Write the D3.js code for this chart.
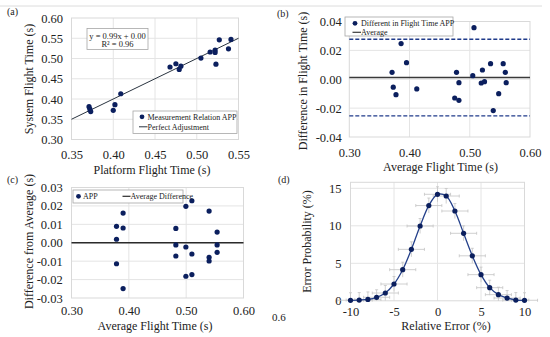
<!DOCTYPE html>
<html>
<head>
<meta charset="utf-8">
<script src="https://cdn.jsdelivr.net/npm/d3@7"></script>
<style>
body{margin:0;background:#fff;}
svg text{font-family:'Liberation Serif',serif;}
.grid{stroke:#e4e4e4;stroke-width:1;}
.frame{fill:none;stroke:#d9d9d9;stroke-width:1;}
.axis text{font-size:12.5px;fill:#222;}
.axisTitle{font-size:12px;fill:#222;}
.panelLabel{font-size:10px;fill:#222;}
.legendBox{fill:#fff;stroke:#a6a6a6;stroke-width:0.8;}
.legendText{font-size:8px;fill:#222;}
.dot{fill:#0b1f5e;}
</style>
</head>
<body>
<script>
//panel (a): platform vs system flight time
var platformTime=[0.371,0.372,0.373,0.400,0.402,0.409,0.468,0.475,0.479,0.481,0.505,0.516,0.522,0.522,0.523,0.527,0.538,0.541];
var systemTime=[0.381,0.375,0.369,0.372,0.386,0.413,0.479,0.487,0.473,0.481,0.501,0.516,0.521,0.515,0.486,0.546,0.524,0.547];
var fitLine=[0.35,0.55]; //perfect adjustment y = x
var ticksAx=[0.35,0.40,0.45,0.50,0.55],
	ticksAy=[0.30,0.35,0.40,0.45,0.50,0.55,0.60];

//panel (b): difference in flight time
var avgTimeB=[0.371,0.373,0.3775,0.386,0.395,0.412,0.475,0.478,0.482,0.482,0.505,0.507,0.519,0.521,0.5245,0.5345,0.539,0.548,0.5555,0.559,0.5605];
var diffB=[0.0048,-0.0055,-0.0107,0.0247,0.0115,-0.0067,-0.0130,0.0048,-0.0024,-0.0146,0.0025,0.0357,-0.0026,0.0064,-0.0017,0.0108,-0.0217,-0.0100,0.0108,0.0048,-0.0024];
var limitsB=[0.0012,0.0277,-0.0254]; //average, upper, lower
var ticksBx=[0.30,0.40,0.50,0.60],
	ticksBy=[-0.04,-0.02,0.00,0.02,0.04];

//panel (c): difference from average
var avgTimeC=[0.3785,0.3785,0.3785,0.390,0.390,0.390,0.482,0.482,0.482,0.4995,0.4995,0.4995,0.510,0.510,0.510,0.540,0.540,0.540,0.554,0.554,0.554];
var diffC=[0.0089,0.0019,-0.0114,0.0161,0.0080,-0.0249,0.0078,-0.0012,-0.0072,0.0198,-0.0023,-0.0182,0.0228,-0.0061,-0.0173,0.0172,-0.0079,-0.0099,0.0058,-0.0012,-0.0052];
var avgDiffC=[0.0];
var ticksCx=[0.30,0.40,0.50,0.60],
	ticksCy=[-0.03,-0.02,-0.01,0.00,0.01,0.02,0.03];

//panel (d): error distribution
var relError=[-10,-9,-8,-7,-6,-5,-4,-3,-2,-1,0,1,2,3,4,5,6,7,8,9,10];
var errProb=[0.07,0.1,0.18,0.47,1.04,2.24,4.15,6.86,9.97,12.7,14.2,13.97,11.97,9.0,6.0,3.49,1.75,0.82,0.37,0.1,0.07];
var errBarX=[1.5,1.5,1.5,1.5,1.5,1.5,1.5,1.5,1.5,1.5,1.5,1.5,1.5,1.5,1.5,1.5,1.5,1.5,1.5,1.5,1.5];
var errBarY=[1.0,1.0,1.0,1.0,1.0,1.0,1.0,1.0,1.0,1.0,1.0,1.0,1.0,1.0,1.0,1.0,1.0,1.0,1.0,1.0,1.0];
var ticksDx=[-10,-5,0,5,10],
	ticksDy=[0,5,10,15];

var fmt2=function(d){return d.toFixed(2);};

var svg=d3.select("body")
	.append("svg")
	.attr("width",550)
	.attr("height",337)
	.attr("font-family","Liberation Serif");

//thin separator line at the top
svg.append("line")
	.attr("x1",0).attr("x2",542)
	.attr("y1",6).attr("y2",6)
	.attr("stroke","#dcdcdc")
	.attr("stroke-width",1);

//build a panel frame with gridlines, border and tick labels
function setPanel(f){
	var x=d3.scaleLinear().domain(f.xDom).range([f.left,f.right]);
	var y=d3.scaleLinear().domain(f.yDom).range([f.bottom,f.top]);
	var g=svg.append("g");

	g.selectAll(".gx")
		.data(f.xTicks.slice(1,-1))
		.enter()
		.append("line")
		.attr("class","grid")
		.attr("x1",function(d){return x(d);})
		.attr("x2",function(d){return x(d);})
		.attr("y1",f.top)
		.attr("y2",f.bottom);
	g.selectAll(".gy")
		.data(f.yTicks.filter(function(d){return y(d)>f.top+1 && y(d)<f.bottom-1;}))
		.enter()
		.append("line")
		.attr("class","grid")
		.attr("x1",f.left)
		.attr("x2",f.right)
		.attr("y1",function(d){return y(d);})
		.attr("y2",function(d){return y(d);});

	g.append("rect")
		.attr("class","frame")
		.attr("x",f.left)
		.attr("y",f.top)
		.attr("width",f.right-f.left)
		.attr("height",f.bottom-f.top);

	var xAxis=g.append("g")
		.attr("class","axis")
		.attr("transform","translate(0,"+f.bottom+")")
		.call(d3.axisBottom(x).tickValues(f.xTicks).tickFormat(f.xFmt).tickSize(0).tickPadding(f.padX));
	xAxis.select(".domain").remove();
	xAxis.attr("font-family",null).attr("font-size",null);

	var yAxis=g.append("g")
		.attr("class","axis")
		.attr("transform","translate("+f.left+",0)")
		.call(d3.axisLeft(y).tickValues(f.yTicks).tickFormat(f.yFmt).tickSize(0).tickPadding(f.padY));
	yAxis.select(".domain").remove();
	yAxis.attr("font-family",null).attr("font-size",null);

	//axis titles
	g.append("text")
		.attr("class","axisTitle")
		.attr("x",f.xTitle[1])
		.attr("y",f.xTitle[2])
		.attr("text-anchor","middle")
		.text(f.xTitle[0]);
	g.append("text")
		.attr("class","axisTitle")
		.attr("transform","translate("+f.yTitle[1]+","+f.yTitle[2]+") rotate(-90)")
		.attr("text-anchor","middle")
		.text(f.yTitle[0]);

	g.append("text")
		.attr("class","panelLabel")
		.attr("x",f.label[1])
		.attr("y",f.label[2])
		.text(f.label[0]);

	return {x:x,y:y,g:g};
};

//draw scatter dots
function setDots(p,xs,ys){
	p.g.selectAll(".dot")
		.data(xs)
		.enter()
		.append("circle")
		.attr("class","dot")
		.attr("cx",function(d){return p.x(d);})
		.attr("cy",function(d,i){return p.y(ys[i]);})
		.attr("r",2.6);
};

//---------- panel (a)
var pa=setPanel({
	left:71.5,right:238.5,top:18,bottom:139.5,
	xDom:[0.35,0.55],yDom:[0.30,0.60],
	xTicks:ticksAx,yTicks:ticksAy,xFmt:fmt2,yFmt:fmt2,
	padX:10.5,padY:8.5,
	xTitle:["Platform Flight Time (s)",152,174],
	yTitle:["System Flight Time (s)",33,79],
	label:["(a)",7,15]
});
pa.g.append("line")
	.attr("x1",pa.x(fitLine[0])).attr("y1",pa.y(fitLine[0]))
	.attr("x2",pa.x(fitLine[1])).attr("y2",pa.y(fitLine[1]))
	.attr("stroke","#2a3440")
	.attr("stroke-width",1);
setDots(pa,platformTime,systemTime);

//equation box
pa.g.append("rect").attr("class","legendBox")
	.attr("x",87).attr("y",28.5).attr("width",61).attr("height",21);
pa.g.append("text").attr("class","legendText").style("font-size","8.5px")
	.attr("x",117.5).attr("y",38.5).attr("text-anchor","middle")
	.text("y = 0.99x + 0.00");
pa.g.append("text").attr("class","legendText").style("font-size","8.5px")
	.attr("x",117.5).attr("y",47).attr("text-anchor","middle")
	.text("R² = 0.96");

//legend (a)
pa.g.append("rect").attr("class","legendBox")
	.attr("x",133).attr("y",111).attr("width",104).attr("height",22.5);
pa.g.append("circle").attr("class","dot").attr("cx",142).attr("cy",116.8).attr("r",2.4);
pa.g.append("text").attr("class","legendText").attr("x",147.5).attr("y",119.5).text("Measurement Relation APP");
pa.g.append("line").attr("x1",139).attr("x2",147.5).attr("y1",126.8).attr("y2",126.8)
	.attr("stroke","#2a3440").attr("stroke-width",1);
pa.g.append("text").attr("class","legendText").attr("x",147.5).attr("y",129.5).text("Perfect Adjustment");

//---------- panel (b)
var pb=setPanel({
	left:349.3,right:530,top:21.5,bottom:137,
	xDom:[0.30,0.60],yDom:[-0.04,0.04],
	xTicks:ticksBx,yTicks:ticksBy,xFmt:fmt2,yFmt:fmt2,
	padX:11.5,padY:7.6,
	xTitle:["Average Flight Time (s)",440.5,171],
	yTitle:["Difference in Flight Time (s)",307,81],
	label:["(b)",277,17]
});
pb.g.selectAll(".limit")
	.data(limitsB)
	.enter()
	.append("line")
	.attr("class","limit")
	.attr("x1",pb.x(0.30)).attr("x2",pb.x(0.60))
	.attr("y1",function(d){return pb.y(d);})
	.attr("y2",function(d){return pb.y(d);})
	.attr("stroke",function(d,i){return i==0?"#3a3a3a":"#1f3a8a";})
	.attr("stroke-width",function(d,i){return i==0?1.5:1.3;})
	.attr("stroke-dasharray",function(d,i){return i==0?null:"4,2";});
setDots(pb,avgTimeB,diffB);

//legend (b)
pb.g.append("rect").attr("class","legendBox")
	.attr("x",345).attr("y",17).attr("width",108).attr("height",19);
pb.g.append("circle").attr("class","dot").attr("cx",355).attr("cy",23.3).attr("r",2.4);
pb.g.append("text").attr("class","legendText").attr("x",361).attr("y",26).text("Different in Flight Time APP");
pb.g.append("line").attr("x1",352.5).attr("x2",361).attr("y1",32.3).attr("y2",32.3)
	.attr("stroke","#3a3a3a").attr("stroke-width",1.2);
pb.g.append("text").attr("class","legendText").attr("x",361).attr("y",35).text("Average");

//---------- panel (c)
var pc=setPanel({
	left:71.5,right:243.5,top:187.5,bottom:298,
	xDom:[0.30,0.60],yDom:[-0.03,0.03],
	xTicks:ticksCx,yTicks:ticksCy,xFmt:fmt2,yFmt:fmt2,
	padX:8.5,padY:8.8,
	xTitle:["Average Flight Time (s)",155,330],
	yTitle:["Difference from Average (s)",33,241.5],
	label:["(c)",7,183]
});
pc.g.selectAll(".avg")
	.data(avgDiffC)
	.enter()
	.append("line")
	.attr("x1",pc.x(0.30)).attr("x2",pc.x(0.60))
	.attr("y1",function(d){return pc.y(d);})
	.attr("y2",function(d){return pc.y(d);})
	.attr("stroke","#2b2b2b")
	.attr("stroke-width",1.5);
setDots(pc,avgTimeC,diffC);

//legend (c)
pc.g.append("rect").attr("class","legendBox")
	.attr("x",73).attr("y",190).attr("width",110).attr("height",13);
pc.g.append("circle").attr("class","dot").attr("cx",78.5).attr("cy",196.3).attr("r",2.4);
pc.g.append("text").attr("class","legendText").attr("x",83).attr("y",199).text("APP");
pc.g.append("line").attr("x1",122.5).attr("x2",130.5).attr("y1",196.3).attr("y2",196.3)
	.attr("stroke","#2b2b2b").attr("stroke-width",1.2);
pc.g.append("text").attr("class","legendText").attr("x",130.5).attr("y",199).text("Average Difference");

//---------- panel (d)
var pd=setPanel({
	left:350.5,right:524.5,top:182.3,bottom:300.8,
	xDom:[-10,10],yDom:[0,15.8],
	xTicks:ticksDx,yTicks:ticksDy,xFmt:String,yFmt:String,
	padX:6.5,padY:9,
	xTitle:["Relative Error (%)",446,330],
	yTitle:["Error Probability (%)",311,241.5],
	label:["(d)",278,183]
});

//error bars
var eb=pd.g.selectAll(".errbar")
	.data(relError)
	.enter()
	.append("g")
	.attr("class","errbar")
	.attr("stroke","#c4c4c4")
	.attr("stroke-width",0.8);
eb.append("line")
	.attr("x1",function(d,i){return pd.x(d-errBarX[i]);})
	.attr("x2",function(d,i){return pd.x(d+errBarX[i]);})
	.attr("y1",function(d,i){return pd.y(errProb[i]);})
	.attr("y2",function(d,i){return pd.y(errProb[i]);});
eb.append("line")
	.attr("x1",function(d){return pd.x(d);})
	.attr("x2",function(d){return pd.x(d);})
	.attr("y1",function(d,i){return pd.y(errProb[i]+errBarY[i]);})
	.attr("y2",function(d,i){return pd.y(Math.max(0,errProb[i]-errBarY[i]));});
eb.append("line")
	.attr("x1",function(d){return pd.x(d)-1.5;})
	.attr("x2",function(d){return pd.x(d)+1.5;})
	.attr("y1",function(d,i){return pd.y(errProb[i]+errBarY[i]);})
	.attr("y2",function(d,i){return pd.y(errProb[i]+errBarY[i]);});
eb.append("line")
	.attr("x1",function(d,i){return pd.x(d-errBarX[i]);})
	.attr("x2",function(d,i){return pd.x(d-errBarX[i]);})
	.attr("y1",function(d,i){return pd.y(errProb[i])-1.5;})
	.attr("y2",function(d,i){return pd.y(errProb[i])+1.5;});
eb.append("line")
	.attr("x1",function(d,i){return pd.x(d+errBarX[i]);})
	.attr("x2",function(d,i){return pd.x(d+errBarX[i]);})
	.attr("y1",function(d,i){return pd.y(errProb[i])-1.5;})
	.attr("y2",function(d,i){return pd.y(errProb[i])+1.5;});

//smooth curve
var curve=d3.line()
	.x(function(d){return pd.x(d);})
	.y(function(d,i){return pd.y(errProb[i]);})
	.curve(d3.curveCatmullRom.alpha(0.5));
pd.g.append("path")
	.datum(relError)
	.attr("d",curve)
	.attr("fill","none")
	.attr("stroke","#24408a")
	.attr("stroke-width",1.3);
setDots(pd,relError,errProb);

//stray label left of panel (d)
svg.append("text")
	.attr("class","panelLabel")
	.style("font-size","11px")
	.attr("x",272)
	.attr("y",321)
	.text("0.6");
</script>
</body>
</html>
